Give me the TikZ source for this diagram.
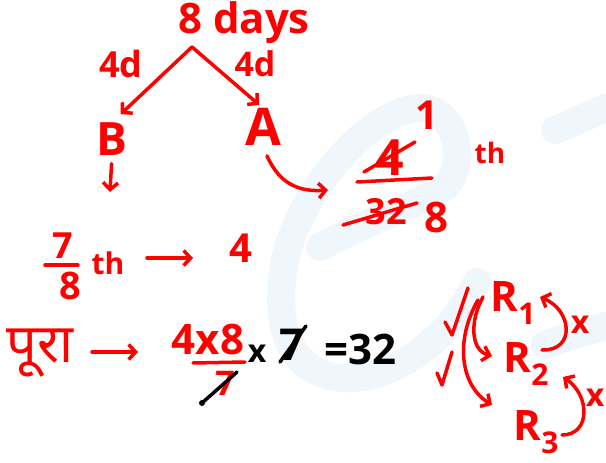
\documentclass[tikz,border=0pt]{standalone}
\usepackage{fontspec}
\setmainfont{Open Sans}
\newfontfamily\devfont[Script=Devanagari]{Noto Sans}
\usetikzlibrary{arrows.meta}
\definecolor{ink}{HTML}{FF0000}
\definecolor{wm}{HTML}{EFF6FC}
\tikzset{
 hw/.style={text=ink, inner sep=0pt, font=\fontsize{#1}{#1}\selectfont\bfseries},
 hwk/.style={text=black, inner sep=0pt, font=\fontsize{#1}{#1}\selectfont\bfseries},
 pen/.style={draw=ink, line width=3.5pt, line cap=round, line join=round},
 penk/.style={draw=black, line width=3.5pt, line cap=round, line join=round},
 arr/.style={pen, -{Straight Barb[length=7pt,width=15pt]}},
 wmark/.style={draw=wm, line width=28pt, line cap=round, line join=round},
}
\newcommand{\Rsub}[1]{R\raisebox{-13pt}{\fontsize{30}{30}\selectfont #1}}
\begin{document}
\begin{tikzpicture}[x=1pt,y=-1pt]
\useasboundingbox (0,0) rectangle (606,463);
\fill[white] (0,0) rectangle (606,463);
% watermark
\draw[wmark] (320,247) .. controls (380,215) and (430,200) .. (447,185)
  .. controls (468,160) and (455,108) .. (420,108)
  .. controls (370,110) and (300,190) .. (285,260)
  .. controls (272,330) and (292,372) .. (340,378)
  .. controls (400,382) and (455,330) .. (477,282);
\draw[wmark] (555,130) -- (606,108);
\draw[wmark] (545,345) .. controls (570,336) .. (606,326);

% top tree
\node[hw=42] (days) at (244,23) {8 days};
\coordinate (split) at (192,47);
\node[hw=36] (l4d) at (121,64) {4d};
\node[hw=34] (r4d) at (255,64) {4d};
\node[hw=46] (B) at (112,139) {B};
\node[hw=52] (A) at (263,127) {A};
\draw[arr, shorten >=12pt] (split) -- (B.north);
\draw[arr, shorten >=5pt] (split) -- (A.north);
\coordinate (bdown) at (110,192);
\draw[arr, shorten <=8pt] (B.south) -- (bdown);
\coordinate (fr) at (328,190);
\draw[arr] ([xshift=4pt,yshift=-10pt]A.south) .. controls (280,185) and (300,192) .. (fr);

% fraction
\node[hw=50] (n4) at (390,158) {4};
\node[hw=40] (one) at (427,115) {1};
\node[hw=36] (d32) at (386,212) {32};
\node[hw=42] (d8) at (436,218) {8};
\node[hw=28] (th1) at (490,153) {th};
\coordinate (s4a) at (364,172); \coordinate (s4b) at (415,142);
\draw[pen] (s4a) -- (s4b);
\coordinate (fba) at (357,182); \coordinate (fbb) at (432,178);
\draw[pen] (fba) -- (fbb);
\coordinate (s32a) at (343,225); \coordinate (s32b) at (417,203);
\draw[pen] (s32a) -- (s32b);

% 7/8 th -> 4
\node[hw=36] (seven) at (63,246) {7};
\node[hw=38] (eight) at (70,286) {8};
\node[hw=30] (th2) at (108,263) {th};
\coordinate (b78a) at (45,265); \coordinate (b78b) at (78,265);
\draw[pen] (b78a) -- (b78b);
\node[hw=40] (four) at (241,248) {4};
\coordinate (a1s) at (147,258); \coordinate (a1e) at (193,258);
\draw[arr] (a1s) -- (a1e);

% pura line
\node[hw=54] (pura) at (40,353) {\devfont पूरा};
\coordinate (a2s) at (92,352); \coordinate (a2e) at (138,352);
\draw[arr] (a2s) -- (a2e);
\node[hw=42] (f48) at (208,340) {4x8};
\coordinate (ula) at (193,363); \coordinate (ulb) at (245,362);
\draw[pen] (ula) -- (ulb);
\node[hw=34] (r7) at (225,383) {7};
\coordinate (ka) at (202,403); \coordinate (kb) at (237,372);
\draw[penk] (ka) -- (kb);
\fill[black] (ka) circle (3pt);
\node[hwk=32] (kx) at (257,354) {x};
\node[hwk=44] (k7) at (292,345) {7};
\coordinate (k7a) at (280,362); \coordinate (k7b) at (306,326);
\draw[penk] (k7a) -- (k7b);
\node[hwk=42] (eq) at (360,349) {=32};

% right group
\node[hw=42] (R1) at (513,303) {\Rsub{1}};
\node[hw=42] (R2) at (526,364) {\Rsub{2}};
\node[hw=42] (R3) at (536,432) {\Rsub{3}};
\coordinate (c1a) at (445,322); \coordinate (c1b) at (452,335); \coordinate (c1c) at (468,288);
\draw[pen] (c1a) -- (c1b) -- (c1c);
\coordinate (c2a) at (437,373); \coordinate (c2b) at (442,385); \coordinate (c2c) at (452,352);
\draw[pen] (c2a) -- (c2b) -- (c2c);
\coordinate (p1s) at (483,297); \coordinate (p1e) at (492,356);
\draw[arr] (p1s) .. controls (470,320) and (470,350) .. (p1e);
\coordinate (p2s) at (478,300); \coordinate (p2e) at (492,405);
\draw[arr] (p2s) .. controls (455,340) and (460,385) .. (p2e);
\coordinate (p3s) at (542,350); \coordinate (p3e) at (540,297);
\draw[arr] (p3s) .. controls (576,351) and (572,310) .. (p3e);
\node[hw=32] (x1) at (580,325) {x};
\coordinate (p4s) at (562,435); \coordinate (p4e) at (563,377);
\draw[arr] (p4s) .. controls (591,435) and (590,395) .. (p4e);
\node[hw=32] (x2) at (595,398) {x};
\end{tikzpicture}
\end{document}
